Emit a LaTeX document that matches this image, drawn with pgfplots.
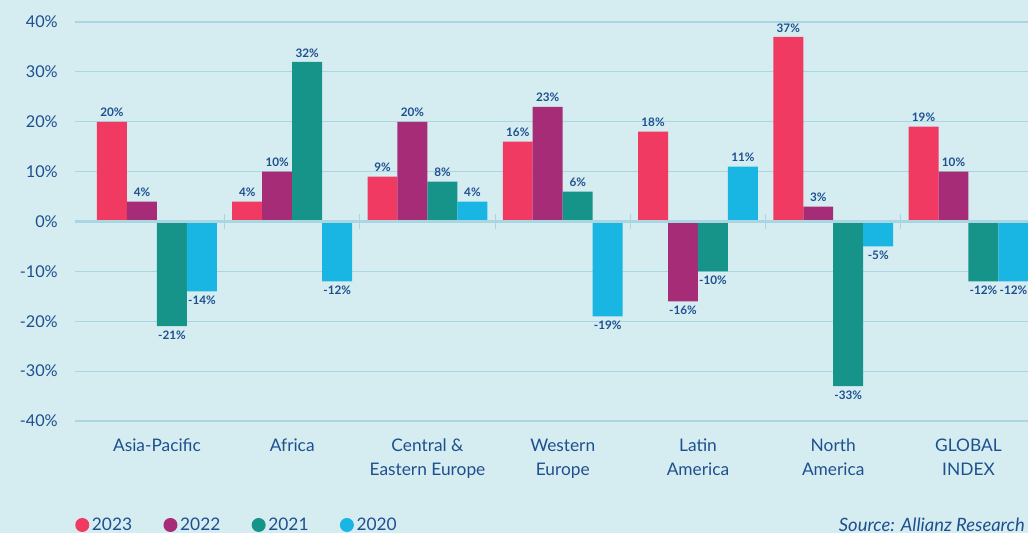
\documentclass[border=0pt]{standalone}
\usepackage{fontspec}
\setmainfont{Lato}
\usepackage{pgfplots}
\pgfplotsset{compat=1.18}

\definecolor{bgc}{HTML}{D5EDF1}
\definecolor{gridc}{HTML}{A9D6E1}
\definecolor{tc}{HTML}{1E4F8F}
\definecolor{c23}{HTML}{F03A62}
\definecolor{c22}{HTML}{A62C78}
\definecolor{c21}{HTML}{17948A}
\definecolor{c20}{HTML}{19B6E3}

\begin{document}
\begin{tikzpicture}
  % background, 1px = 0.75pt
  \fill[bgc] (-56.25pt,-84pt) rectangle (714.75pt,315.75pt);
  \begin{axis}[
    at={(0,0)}, anchor=south west,
    scale only axis, width=714.75pt, height=299.25pt,
    ybar=0pt, bar width=0.2217,
    xmin=-0.606, xmax=6.44, ymin=-40, ymax=40,
    axis line style={draw=none},
    major tick style={draw=none},
    ytick={-40,-30,...,40},
    yticklabel={\pgfmathprintnumber{\tick}\%},
    yticklabel style={inner sep=0pt, xshift=-12.75pt, text=tc,
      font=\fontsize{12.2}{15}\selectfont},
    /pgf/number format/assume math mode=true,
    ymajorgrids, grid style={gridc, line width=0.9pt},
    xtick={0,...,6},
    xticklabels={Asia-Pacific, Africa, {Central \&\\Eastern Europe},
      {Western\\Europe}, {Latin\\America}, {North\\America}, {GLOBAL\\INDEX}},
    xticklabel style={align=center, inner sep=0pt, yshift=-9pt, text=tc,
      font=\fontsize{13}{18}\selectfont},
    visualization depends on=rawy \as \rawy,
    nodes near coords={\pgfmathprintnumber{\pgfplotspointmeta}\%},
    nodes near coords style={font=\bfseries\fontsize{8.8}{10}\selectfont, text=tc,
      anchor=\ifdim\rawy pt<0pt north\else south\fi},
    every axis plot post/.append style={draw=none,
      legend image code/.code={\fill[##1] (5.25pt,0pt) circle (5.25pt);}},
    legend columns=4,
    legend style={at={(axis description cs:0,-0.2606)}, anchor=west,
      draw=none, fill=none, inner sep=0pt, text=tc,
      font=\fontsize{13}{15}\selectfont,
      /tikz/every even column/.append style={column sep=21.5pt}},
  ]
    \addplot[fill=c23] coordinates {(0,20) (1,4) (2,9) (3,16) (4,18) (5,37) (6,19)};
    \addplot[fill=c22] coordinates {(0,4) (1,10) (2,20) (3,23) (4,-16) (5,3) (6,10)};
    \addplot[fill=c21] coordinates {(0,-21) (1,32) (2,8) (3,6) (4,-10) (5,-33) (6,-12)};
    \addplot[fill=c20] coordinates {(0,-14) (1,-12) (2,4) (3,-19) (4,11) (5,-5) (6,-12)};
    \legend{2023, 2022, 2021, 2020}
    \draw[gridc, line width=2.2pt] (axis cs:-0.606,0) -- (axis cs:6.44,0);
    \pgfplotsinvokeforeach{0.5,1.5,2.5,3.5,4.5,5.5}{
      \draw[gridc, line width=0.9pt] (axis cs:#1,-1.6) -- (axis cs:#1,1.6);
    }
  \end{axis}
  \node[anchor=east, inner sep=0pt, text=tc, font=\itshape\fontsize{13.8}{16}\selectfont]
    at (712.5pt,-77.5pt) {Source: Allianz Research};
  \pgfresetboundingbox
  \path (-56.25pt,-84pt) rectangle (714.75pt,315.75pt);
\end{tikzpicture}
\end{document}
